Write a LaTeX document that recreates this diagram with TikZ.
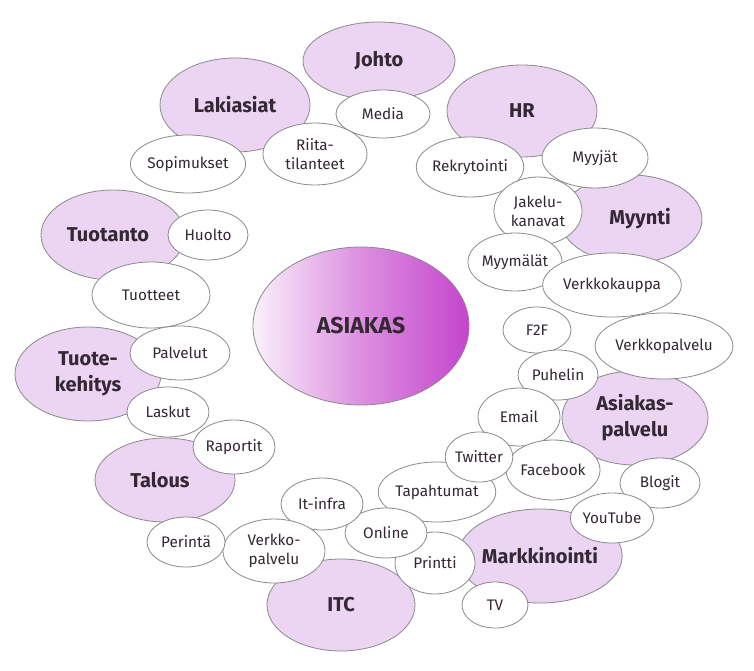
\documentclass[tikz,border=0pt]{standalone}
\usepackage{fontspec}
\setmainfont{Fira Sans}
\usetikzlibrary{shapes.geometric}
\definecolor{lav}{HTML}{EBD5F2}
\definecolor{edge}{HTML}{8A8A8A}
\definecolor{ink}{HTML}{332833}
\definecolor{mag}{HTML}{C445CC}
\begin{document}
\begin{tikzpicture}[x=1pt,y=-1pt,
  bubble/.style={ellipse, draw=edge, line width=0.8pt, inner sep=0pt, align=center, text=ink},
  head/.style={bubble, fill=lav, font=\bfseries\fontsize{20}{26}\selectfont},
  leaf/.style={bubble, fill=white, font=\fontsize{15.3}{19}\selectfont},
  ]
\useasboundingbox (0,0) rectangle (754,671);
\fill[white] (0,0) rectangle (754,671);
% central
\node[bubble, shading=axis, left color=white!92!mag, right color=mag, middle color=mag!60!white, shading angle=90,
  minimum width=216pt, minimum height=158pt, font=\bfseries\fontsize{23}{28}\selectfont] (asiakas) at (361,326) {ASIAKAS};
% main areas
\node[head, minimum width=152pt, minimum height=78pt] (johto) at (379,61) {Johto};
\node[head, minimum width=150pt, minimum height=94pt] (laki) at (235,105) {Lakiasiat};
\node[head, minimum width=150pt, minimum height=92pt] (hr) at (522,111) {HR};
\node[head, minimum width=142pt, minimum height=88pt] (myynti) at (631,219) {\hspace*{18pt}Myynti};
\node[head, minimum width=144pt, minimum height=90pt] (tuotanto) at (113,235) {\hspace*{-10pt}Tuotanto};
\node[head, minimum width=146pt, minimum height=94pt] (tk) at (88,374) {Tuote-\\kehitys};
\node[head, minimum width=140pt, minimum height=84pt] (talous) at (165,480) {\hspace*{-10pt}Talous};
\node[head, minimum width=148pt, minimum height=92pt] (itc) at (341,605) {ITC};
\node[head, minimum width=146pt, minimum height=94pt] (mark) at (540,556) {Markkinointi};
\node[head, minimum width=146pt, minimum height=94pt] (ap) at (635,418) {Asiakas-\\palvelu};
% leaves
\node[leaf, minimum width=94pt, minimum height=48pt] (media) at (383,114) {Media};
\node[leaf, minimum width=104pt, minimum height=62pt] (riita) at (315,154) {Riita-\\tilanteet};
\node[leaf, minimum width=104pt, minimum height=58pt] (sopi) at (188,164) {Sopimukset};
\node[leaf, minimum width=106pt, minimum height=60pt] (rekry) at (470,167) {Rekrytointi};
\node[leaf, minimum width=106pt, minimum height=60pt] (myyjat) at (595,158) {Myyjät};
\node[leaf, minimum width=88pt, minimum height=68pt] (jakelu) at (538,211) {Jakelu-\\kanavat};
\node[leaf, minimum width=94pt, minimum height=58pt] (myymalat) at (515,262) {Myymälät};
\node[leaf, minimum width=124pt, minimum height=64pt] (vkauppa) at (612,285) {Verkkokauppa};
\node[leaf, minimum width=80pt, minimum height=50pt] (huolto) at (208,235) {Huolto};
\node[leaf, minimum width=118pt, minimum height=66pt] (tuotteet) at (151,295) {Tuotteet};
\node[leaf, minimum width=100pt, minimum height=54pt] (palvelut) at (180,353) {Palvelut};
\node[leaf, minimum width=82pt, minimum height=50pt] (laskut) at (168,412) {Laskut};
\node[leaf, minimum width=82pt, minimum height=54pt] (raportit) at (234,447) {Raportit};
\node[leaf, minimum width=68pt, minimum height=46pt] (f2f) at (537,330) {F2F};
\node[leaf, minimum width=124pt, minimum height=66pt] (vpalvelu) at (664,346) {Verkkopalvelu};
\node[leaf, minimum width=80pt, minimum height=50pt] (puhelin) at (558,375) {Puhelin};
\node[leaf, minimum width=82pt, minimum height=58pt] (email) at (519,417) {Email};
\node[leaf, minimum width=94pt, minimum height=60pt] (facebook) at (553,470) {Facebook};
\node[leaf, minimum width=80pt, minimum height=50pt] (blogit) at (660,483) {Blogit};
\node[leaf, minimum width=80pt, minimum height=50pt] (youtube) at (612,518) {YouTube};
\node[leaf, minimum width=94pt, minimum height=60pt] (tapaht) at (437,492) {Tapahtumat};
\node[leaf, minimum width=66pt, minimum height=50pt] (twitter) at (479,457) {Twitter};
\node[leaf, minimum width=80pt, minimum height=62pt] (printti) at (435,563) {Printti};
\node[leaf, minimum width=82pt, minimum height=50pt] (online) at (386,533) {Online};
\node[leaf, minimum width=66pt, minimum height=46pt] (tv) at (495,605) {TV};
\node[leaf, minimum width=82pt, minimum height=52pt] (itinfra) at (322,504) {It-infra};
\node[leaf, minimum width=102pt, minimum height=64pt] (vkpalvelu) at (274,551) {Verkko-\\palvelu};
\node[leaf, minimum width=78pt, minimum height=50pt] (perinta) at (186,542) {Perintä};
\end{tikzpicture}
\end{document}
